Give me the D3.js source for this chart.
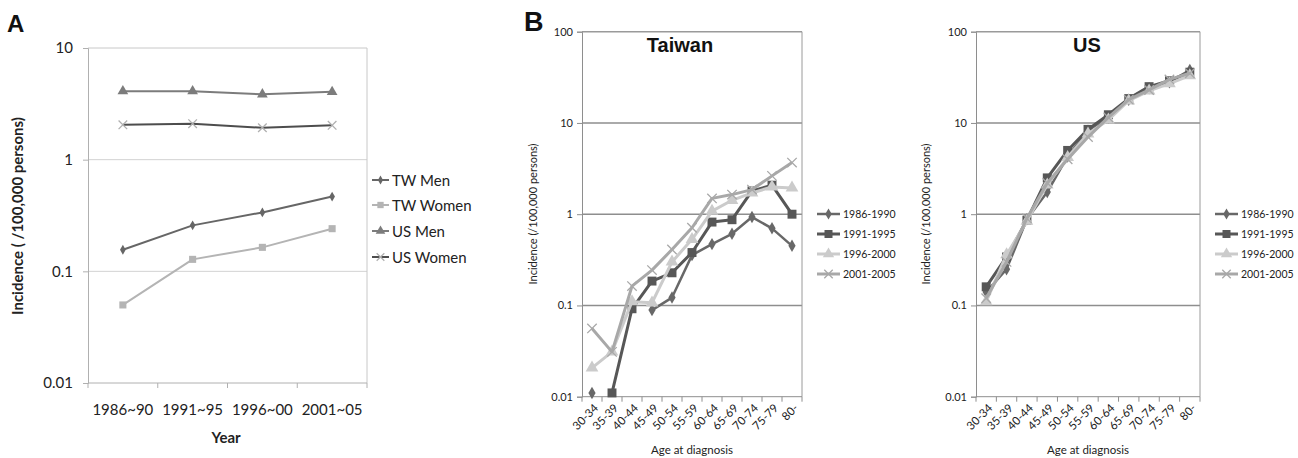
<!DOCTYPE html>
<html>
<head>
<meta charset="UTF-8">
<title>Incidence charts</title>
<script src="https://d3js.org/d3.v7.min.js"></script>
<style>
  body { margin: 0; padding: 0; background: #fff; }
  svg { display: block; }
</style>
</head>
<body>
<div id="chart"></div>
<script>
// ---- data (panel A) ----
const periodsA = ["1986~90", "1991~95", "1996~00", "2001~05"];
const twMen   = [0.156, 0.258, 0.337, 0.467];
const twWomen = [0.050, 0.128, 0.164, 0.241];
const usMen   = [4.10, 4.10, 3.85, 4.05];
const usWomen = [2.05, 2.10, 1.93, 2.03];
const seriesNamesA = ["TW Men", "TW Women", "US Men", "US Women"];

// ---- data (panel B) ----
const ageGroups = ["30-34", "35-39", "40-44", "45-49", "50-54", "55-59", "60-64", "65-69", "70-74", "75-79", "80-"];
const periodsB = ["1986-1990", "1991-1995", "1996-2000", "2001-2005"];
const tw1986 = [0.011, null, null, 0.089, 0.122, 0.356, 0.47, 0.61, 0.93, 0.70, 0.45];
const tw1991 = [null, 0.011, 0.092, 0.185, 0.228, 0.38, 0.82, 0.87, 1.80, 2.08, 1.00];
const tw1996 = [0.0207, 0.031, 0.110, 0.107, 0.30, 0.53, 1.08, 1.42, 1.71, 1.99, 1.94];
const tw2001 = [0.056, 0.031, 0.163, 0.244, 0.41, 0.71, 1.49, 1.64, 1.86, 2.63, 3.68];
const us1986 = [0.14, 0.25, 0.88, 1.75, 4.3, 8.2, 11.5, 18.0, 24.0, 28.0, 38.0];
const us1991 = [0.16, 0.34, 0.86, 2.50, 5.0, 8.5, 12.3, 18.5, 25.0, 29.0, 36.0];
const us1996 = [0.11, 0.36, 0.84, 2.10, 4.2, 7.6, 10.8, 17.5, 22.5, 27.0, 33.0];
const us2001 = [0.12, 0.30, 0.90, 2.20, 4.0, 7.0, 11.5, 18.0, 23.0, 30.0, 35.0];

const svg = d3.select('#chart').append('svg')
    .attr('width', 1298)
    .attr('height', 458);

const sans = 'Lato, "Open Sans", sans-serif';
const arial = '"Liberation Sans", Arial, sans-serif';

// draws a marker of given kind at x,y
function marker(g, kind, x, y, size, color, xColor) {
    let type = {diamond: d3.symbolDiamond, square: d3.symbolSquare, triangle: d3.symbolTriangle, x: d3.symbolTimes}[kind];
    let p = g.append('path')
        .attr('transform', `translate(${x},${y})`)
        .attr('d', d3.symbol().type(type).size(size)());
    if (kind === 'x') {
        p.attr('fill', 'none').attr('stroke', xColor || color).attr('stroke-width', 1.3);
    } else {
        p.attr('fill', color);
    }
}

// generic log line panel
function logPanel(opt) {
    const g = svg.append('g');
    const x = d3.scaleBand().domain(opt.cats).range([opt.left, opt.right]);
    const y = d3.scaleLog().domain(opt.domain).range([opt.bottom, opt.top]);
    const ticks = opt.ticks;

    // gridlines
    g.selectAll('.grid').data(ticks.slice(1, -1)).join('line')
        .attr('x1', opt.left).attr('x2', opt.right)
        .attr('y1', d => y(d)).attr('y2', d => y(d))
        .attr('stroke', opt.gridColor).attr('stroke-width', opt.gridWidth);
    // frame: top & right
    g.append('line').attr('x1', opt.left).attr('x2', opt.right).attr('y1', opt.top).attr('y2', opt.top)
        .attr('stroke', opt.frameColor).attr('stroke-width', opt.gridWidth);
    g.append('line').attr('x1', opt.right).attr('x2', opt.right).attr('y1', opt.top).attr('y2', opt.bottom)
        .attr('stroke', opt.frameColor).attr('stroke-width', 1);

    // y axis
    const yAxis = d3.axisLeft(y).tickValues(ticks).tickFormat(d => d3.format('~g')(d)).tickSize(5).tickPadding(opt.yPad);
    const ya = g.append('g').attr('transform', `translate(${opt.left},0)`).call(yAxis);
    ya.select('.domain').attr('stroke', opt.axisColor);
    ya.selectAll('.tick line').attr('stroke', opt.axisColor);
    ya.selectAll('text').attr('font-family', sans).attr('font-size', opt.tickFont).attr('fill', '#222');

    // x axis with ticks on category boundaries
    g.append('line').attr('x1', opt.left).attr('x2', opt.right).attr('y1', opt.bottom).attr('y2', opt.bottom)
        .attr('stroke', opt.axisColor);
    const bounds = opt.cats.map(c => x(c)).concat([opt.right]);
    g.selectAll('.xt').data(bounds).join('line')
        .attr('x1', d => d).attr('x2', d => d)
        .attr('y1', opt.bottom).attr('y2', opt.bottom + 5)
        .attr('stroke', opt.axisColor);
    const cx = c => x(c) + x.bandwidth() / 2;
    if (opt.rotate) {
        g.selectAll('.xl').data(opt.cats).join('text')
            .attr('transform', c => `translate(${cx(c) + 5},${opt.bottom + 10}) rotate(-45)`)
            .attr('text-anchor', 'end')
            .attr('dominant-baseline', 'middle')
            .attr('font-family', sans).attr('font-size', opt.xFont).attr('fill', '#222')
            .text(c => c);
    } else {
        g.selectAll('.xl').data(opt.cats).join('text')
            .attr('x', cx).attr('y', opt.bottom + 32)
            .attr('text-anchor', 'middle')
            .attr('font-family', sans).attr('font-size', opt.xFont).attr('fill', '#222')
            .text(c => c);
    }

    // series
    opt.series.forEach(s => {
        const pts = s.values.map((v, i) => ({c: opt.cats[i], v: v}));
        const line = d3.line().defined(d => d.v != null).x(d => cx(d.c)).y(d => y(d.v));
        g.append('path').datum(pts)
            .attr('d', line).attr('fill', 'none')
            .attr('stroke', s.color).attr('stroke-width', s.width)
            .attr('stroke-linejoin', 'round');
        pts.filter(d => d.v != null).forEach(d => marker(g, s.kind, cx(d.c), y(d.v), s.size, s.color, s.xColor));
    });

    // legend
    opt.series.forEach((s, i) => {
        const ly = opt.legY[i];
        g.append('line').attr('x1', opt.legX).attr('x2', opt.legX + opt.legLen)
            .attr('y1', ly).attr('y2', ly).attr('stroke', s.color).attr('stroke-width', s.width);
        marker(g, s.kind, opt.legX + opt.legLen / 2, ly, s.size * 0.8, s.color, s.xColor);
        g.append('text').attr('x', opt.legX + opt.legLen + 3).attr('y', ly)
            .attr('dominant-baseline', 'central')
            .attr('font-family', sans).attr('font-size', opt.legFont).attr('fill', '#222')
            .text(s.name);
    });
    return {x, y};
}

// ---- panel A ----
logPanel({
    cats: periodsA, left: 88, right: 367, top: 48, bottom: 383,
    domain: [0.01, 10], ticks: [0.01, 0.1, 1, 10],
    gridColor: '#d2d2d2', gridWidth: 1, frameColor: '#c8c8c8', axisColor: '#b0b0b0',
    tickFont: 15, xFont: 15, yPad: 10, rotate: false,
    series: [
        {name: seriesNamesA[0], values: twMen, kind: 'diamond', color: '#666666', width: 2, size: 28},
        {name: seriesNamesA[1], values: twWomen, kind: 'square', color: '#b4b4b4', width: 2, size: 50},
        {name: seriesNamesA[2], values: usMen, kind: 'triangle', color: '#7c7c7c', width: 2, size: 50},
        {name: seriesNamesA[3], values: usWomen, kind: 'x', color: '#4d4d4d', xColor: '#b0b0b0', width: 2, size: 50}
    ],
    legX: 372, legLen: 17, legY: [180, 205, 231, 257], legFont: 15
});
svg.append('text').attr('x', 226).attr('y', 443).attr('text-anchor', 'middle')
    .attr('font-family', sans).attr('font-weight', 'bold').attr('font-size', 15).attr('fill', '#222').text('Year');
svg.append('text').attr('transform', 'translate(23,216) rotate(-90)').attr('text-anchor', 'middle')
    .attr('font-family', sans).attr('font-weight', 'bold').attr('font-size', 15).attr('fill', '#222')
    .text('Incidence ( /100,000 persons)');
svg.append('text').attr('x', 7).attr('y', 32).attr('font-family', arial).attr('font-weight', 'bold')
    .attr('font-size', 24).attr('fill', '#111').text('A');

// ---- panel B ----
const bStyle = [
    {kind: 'diamond', color: '#686868', width: 2.5, size: 45},
    {kind: 'square', color: '#575757', width: 3, size: 80},
    {kind: 'triangle', color: '#cbcbcb', width: 3, size: 70},
    {kind: 'x', color: '#a8a8a8', width: 3, size: 60}
];
const legYB = [214, 234, 254, 274];
function bPanel(left, right, vals, legX, title, titleX, yTitleX) {
    logPanel({
        cats: ageGroups, left: left, right: right, top: 31.7, bottom: 396.7,
        domain: [0.01, 100], ticks: [0.01, 0.1, 1, 10, 100],
        gridColor: '#8e8e8e', gridWidth: 1.5, frameColor: '#9a9a9a', axisColor: '#8e8e8e',
        tickFont: 11, xFont: 11.5, yPad: 4, rotate: true,
        series: vals.map((v, i) => Object.assign({name: periodsB[i], values: v}, bStyle[i])),
        legX: legX, legLen: 23, legY: legYB, legFont: 10.5
    });
    svg.append('text').attr('x', titleX).attr('y', 52).attr('text-anchor', 'middle')
        .attr('font-family', arial).attr('font-weight', 'bold').attr('font-size', 20).attr('fill', '#111').text(title);
    svg.append('text').attr('x', (left + right) / 2).attr('y', 454).attr('text-anchor', 'middle')
        .attr('font-family', sans).attr('font-size', 11.5).attr('fill', '#222').text('Age at diagnosis');
    svg.append('text').attr('transform', `translate(${yTitleX},214) rotate(-90)`).attr('text-anchor', 'middle')
        .attr('font-family', sans).attr('font-size', 11).attr('fill', '#222').text('Incidence (/100,000 persons)');
}
bPanel(582, 802, [tw1986, tw1991, tw1996, tw2001], 817, 'Taiwan', 680, 537);
bPanel(976, 1200, [us1986, us1991, us1996, us2001], 1215, 'US', 1087, 930);
svg.append('text').attr('x', 524).attr('y', 31).attr('font-family', arial).attr('font-weight', 'bold')
    .attr('font-size', 27).attr('fill', '#111').text('B');
</script>
</body>
</html>
